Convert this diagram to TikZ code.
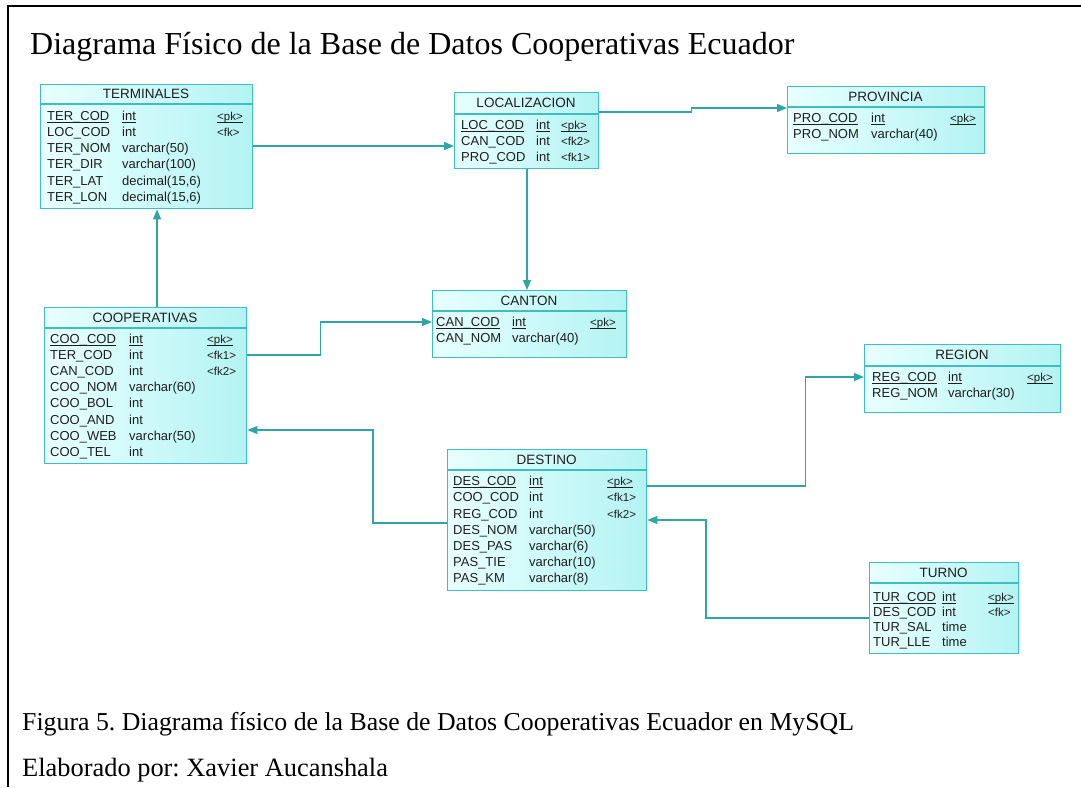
\documentclass[tikz,border=0pt]{standalone}
\usepackage{fontspec}
\setmainfont{Liberation Serif}
\newfontfamily\erfont{Liberation Sans}
\usetikzlibrary{arrows.meta}

\definecolor{tblA}{HTML}{E8FFFF}
\definecolor{tblB}{HTML}{B4F3F3}
\definecolor{tblEdge}{HTML}{40BDBD}
\definecolor{connC}{HTML}{2FA6A6}
\definecolor{txtC}{HTML}{1E1E1E}

\tikzset{
  tbox/.style={draw=tblEdge, line width=1.4pt, left color=tblA, right color=tblB,
               inner sep=0pt, anchor=north west},
  hdr/.style={font=\erfont\fontsize{13.5}{13.5}\selectfont, text=txtC, inner sep=0pt},
  fld/.style={font=\erfont\fontsize{13}{13}\selectfont, text=txtC, inner sep=0pt, anchor=base west},
  keyl/.style={fld, font=\erfont\fontsize{11.5}{11.5}\selectfont},
  hline/.style={draw=tblEdge, line width=1.2pt},
  conn/.style={draw=connC, line width=1.3pt, -{Triangle[length=10pt,width=8pt]}},
  doctext/.style={anchor=base west, inner sep=0pt, text=black}
}

% primary-key underline sitting just under the baseline
\newcommand\erul[1]{\underline{\smash{#1}\vphantom{A}}}

% table box: name, x1, y1, x2, y2, header rule y, title
\newcommand\erbox[7]{%
  \node[tbox, minimum width={#4pt-#2pt}, minimum height={#5pt-#3pt}] (#1) at (#2,#3) {};
  \draw[hline] (#1.west |- 0,#6) -- (#1.east |- 0,#6);
  \node[hdr] (#1-h) at ({(#2+#4)/2},{(#3+#6)/2}) {#7};
}
% column positions of the current table
\newcommand\ercols[3]{\def\colN{#1}\def\colT{#2}\def\colK{#3}}
% field row: table, index, y centre, field name, type
\newcommand\erfield[5]{%
  \node[fld] (#1-n#2) at (\colN,#3+4.6) {#4};
  \node[fld] (#1-t#2) at (\colT,#3+4.6) {#5};
}
% key marker: table, index, y centre, key text
\newcommand\erkey[4]{%
  \node[keyl] (#1-k#2) at (\colK,#3+4.4) {#4};
}

\begin{document}
\begin{tikzpicture}[x=1pt, y=-1pt]
\useasboundingbox (0,0) rectangle (1081,787);

% page frame
\draw[line width=2pt] (8,787) -- (8,6) -- (1081,6);

\node[doctext, font=\fontsize{32}{32}\selectfont] (title) at (30,54)
  {Diagrama Físico de la Base de Datos Cooperativas Ecuador};

% ---------- TERMINALES
\erbox{term}{40}{84}{252}{208}{104}{TERMINALES}
\ercols{47}{122}{217}
\erfield{term}{1}{116}{\erul{TER\_COD}}{\erul{int}}
\erkey{term}{1}{116}{\erul{<pk>}}
\erfield{term}{2}{132}{LOC\_COD}{int}
\erkey{term}{2}{132}{<fk>}
\erfield{term}{3}{148}{TER\_NOM}{varchar(50)}
\erfield{term}{4}{164}{TER\_DIR}{varchar(100)}
\erfield{term}{5}{181}{TER\_LAT}{decimal(15,6)}
\erfield{term}{6}{197}{TER\_LON}{decimal(15,6)}

% ---------- LOCALIZACION
\erbox{loc}{454}{92}{598}{168}{114}{LOCALIZACION}
\ercols{461}{536}{561}
\erfield{loc}{1}{125}{\erul{LOC\_COD}}{\erul{int}}
\erkey{loc}{1}{125}{\erul{<pk>}}
\erfield{loc}{2}{141}{CAN\_COD}{int}
\erkey{loc}{2}{141}{<fk2>}
\erfield{loc}{3}{157}{PRO\_COD}{int}
\erkey{loc}{3}{157}{<fk1>}

% ---------- PROVINCIA
\erbox{prov}{787}{86}{984}{153}{107}{PROVINCIA}
\ercols{793}{871}{950}
\erfield{prov}{1}{118}{\erul{PRO\_COD}}{\erul{int}}
\erkey{prov}{1}{118}{\erul{<pk>}}
\erfield{prov}{2}{134}{PRO\_NOM}{varchar(40)}

% ---------- COOPERATIVAS
\erbox{coop}{44}{307}{246}{463}{328}{COOPERATIVAS}
\ercols{50}{129}{207}
\erfield{coop}{1}{339}{\erul{COO\_COD}}{\erul{int}}
\erkey{coop}{1}{339}{\erul{<pk>}}
\erfield{coop}{2}{355}{TER\_COD}{int}
\erkey{coop}{2}{355}{<fk1>}
\erfield{coop}{3}{371}{CAN\_COD}{int}
\erkey{coop}{3}{371}{<fk2>}
\erfield{coop}{4}{387}{COO\_NOM}{varchar(60)}
\erfield{coop}{5}{403}{COO\_BOL}{int}
\erfield{coop}{6}{420}{COO\_AND}{int}
\erfield{coop}{7}{436}{COO\_WEB}{varchar(50)}
\erfield{coop}{8}{452}{COO\_TEL}{int}

% ---------- CANTON
\erbox{cant}{432}{290}{626}{357}{311}{CANTON}
\ercols{436}{512}{590}
\erfield{cant}{1}{322}{\erul{CAN\_COD}}{\erul{int}}
\erkey{cant}{1}{322}{\erul{<pk>}}
\erfield{cant}{2}{338}{CAN\_NOM}{varchar(40)}

% ---------- REGION
\erbox{reg}{864}{344}{1060}{412}{366}{REGION}
\ercols{872}{948}{1027}
\erfield{reg}{1}{377}{\erul{REG\_COD}}{\erul{int}}
\erkey{reg}{1}{377}{\erul{<pk>}}
\erfield{reg}{2}{393}{REG\_NOM}{varchar(30)}

% ---------- DESTINO
\erbox{dest}{447}{449}{646}{590}{470}{DESTINO}
\ercols{453}{529}{607}
\erfield{dest}{1}{481}{\erul{DES\_COD}}{\erul{int}}
\erkey{dest}{1}{481}{\erul{<pk>}}
\erfield{dest}{2}{497}{COO\_COD}{int}
\erkey{dest}{2}{497}{<fk1>}
\erfield{dest}{3}{514}{REG\_COD}{int}
\erkey{dest}{3}{514}{<fk2>}
\erfield{dest}{4}{530}{DES\_NOM}{varchar(50)}
\erfield{dest}{5}{546}{DES\_PAS}{varchar(6)}
\erfield{dest}{6}{562}{PAS\_TIE}{varchar(10)}
\erfield{dest}{7}{578}{PAS\_KM}{varchar(8)}

% ---------- TURNO
\erbox{turno}{869}{562}{1018}{653}{583}{TURNO}
\ercols{873}{942}{988}
\erfield{turno}{1}{597}{\erul{TUR\_COD}}{\erul{int}}
\erkey{turno}{1}{597}{\erul{<pk>}}
\erfield{turno}{2}{612}{DES\_COD}{int}
\erkey{turno}{2}{612}{<fk>}
\erfield{turno}{3}{627}{TUR\_SAL}{time}
\erfield{turno}{4}{642}{TUR\_LLE}{time}

% ---------- relationships
\draw[conn] (term.east |- 0,146) -- (loc.west |- 0,146);
\draw[conn] (loc.east |- 0,112) -- ++(92,0) |- (prov.west |- 0,108);
\draw[conn] (loc.south -| 527,0) -- (cant.north -| 527,0);
\draw[conn] (coop.east |- 0,355) -- ++(73,0) |- (cant.west |- 0,322);
\draw[conn] (coop.north -| 157,0) -- (term.south -| 157,0);
\draw[conn] (dest.west |- 0,523) -- ++(-74,0) |- (coop.east |- 0,430);
\draw[conn] (dest.east |- 0,486) -- ++(158,0) |- (reg.west |- 0,377);
\draw[conn] (turno.west |- 0,618) -- ++(-163,0) |- (dest.east |- 0,520);

% ---------- caption
\frenchspacing
\node[doctext, font=\fontsize{25.8}{25.8}\selectfont] (cap) at (22,730)
  {Figura 5. Diagrama físico de la Base de Datos Cooperativas Ecuador en MySQL};
\node[doctext, font=\fontsize{26.4}{26.4}\selectfont] (auth) at (22,776)
  {Elaborado por: Xavier Aucanshala};
\end{tikzpicture}
\end{document}
